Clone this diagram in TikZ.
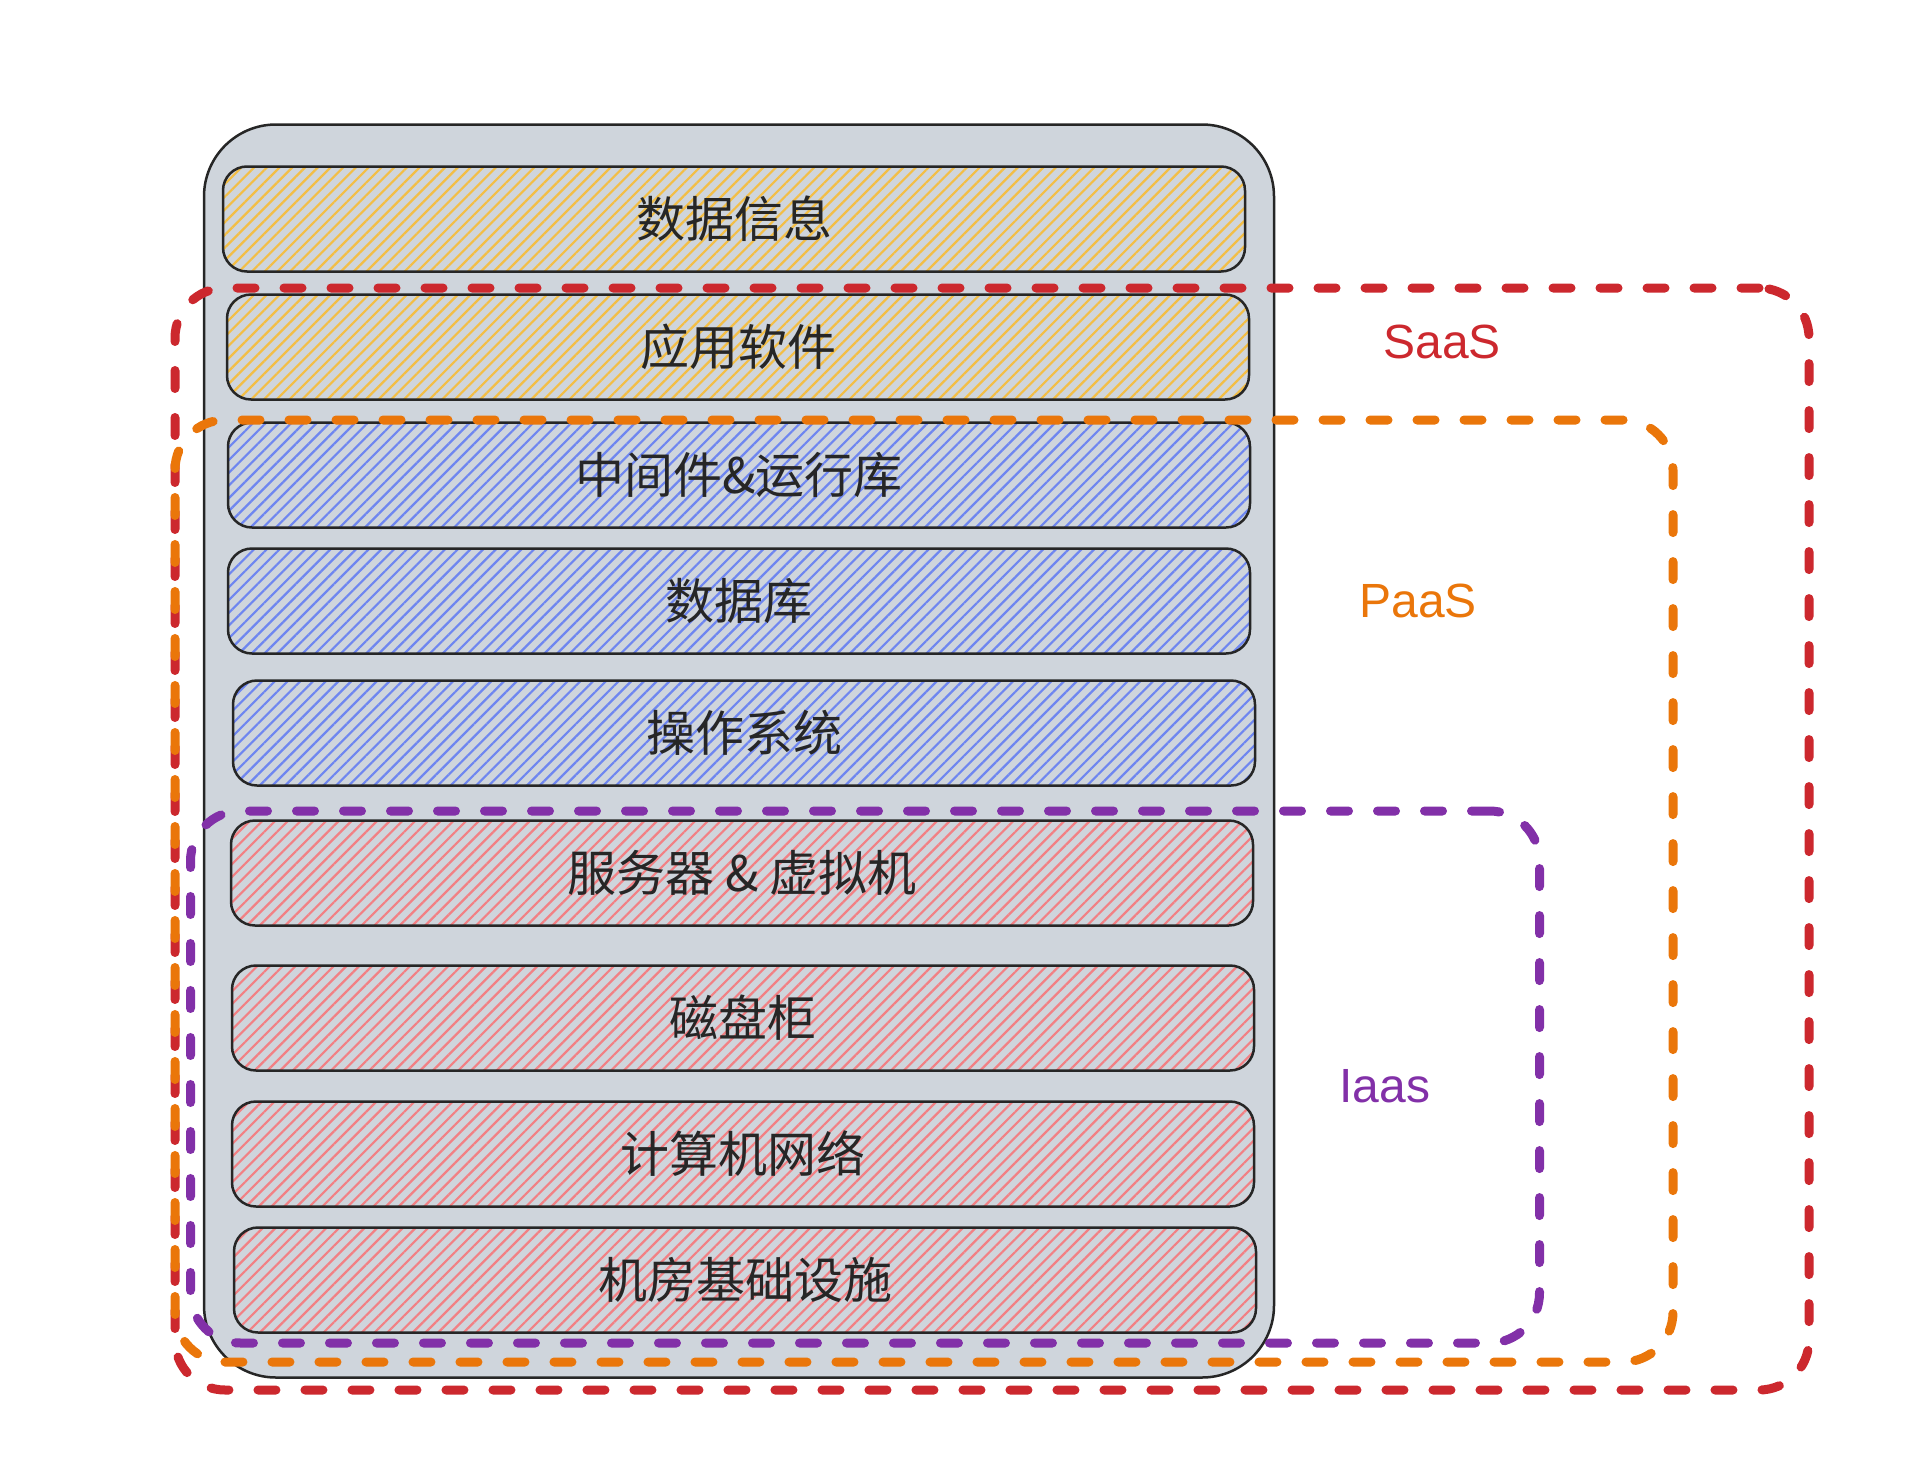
\documentclass[tikz,border=0pt]{standalone}
\usepackage{fontspec}
\setmainfont{Liberation Sans}
\newfontfamily\cjk{Noto Sans CJK SC}
\usetikzlibrary{patterns.meta}

\definecolor{stackgray}{RGB}{207,213,220}
\definecolor{hatchyellow}{RGB}{243,190,70}
\definecolor{hatchblue}{RGB}{110,134,240}
\definecolor{hatchred}{RGB}{242,128,132}
\definecolor{saasred}{RGB}{204,40,46}
\definecolor{paasorange}{RGB}{234,118,10}
\definecolor{iaaspurple}{RGB}{130,48,168}

\tikzset{
  stack/.style={draw=black!85, line width=2.5pt, fill=stackgray, rounded corners=72pt,
    minimum width=1070pt, minimum height=1253pt},
  layer/.style={draw=black!85, line width=2.5pt, rounded corners=24pt,
    minimum width=1022pt, minimum height=105pt, inner sep=0pt,
    font=\cjk\fontsize{49}{56}\selectfont, text=black!85},
  applayer/.style={layer, pattern={Lines[angle=45,distance=9pt,line width=2.2pt]}, pattern color=hatchyellow},
  platlayer/.style={layer, pattern={Lines[angle=45,distance=9pt,line width=2.2pt]}, pattern color=hatchblue},
  hwlayer/.style={layer, pattern={Lines[angle=45,distance=9pt,line width=2.2pt]}, pattern color=hatchred},
  svcbox/.style={draw, line width=9pt, dash pattern=on 18pt off 29pt, line cap=round,
    rounded corners=50pt},
  svclabel/.style={font=\fontsize{48}{56}\selectfont}
}

\begin{document}
\begin{tikzpicture}[x=1pt, y=-1pt]
  \useasboundingbox (0,0) rectangle (1920,1478);
  \node[stack] (stack) at (739,751) {};

  \node[applayer] (info) at (734,219) {数据信息};
  \node[applayer] (app) at (738,347) {应用软件};
  \node[platlayer] (mid) at (739,475) {中间件\&运行库};
  \node[platlayer] (db) at (739,601) {数据库};
  \node[platlayer] (os) at (744,733) {操作系统};
  \node[hwlayer] (server) at (742,873) {服务器 \& 虚拟机};
  \node[hwlayer] (disk) at (743,1018) {磁盘柜};
  \node[hwlayer] (net) at (743,1154) {计算机网络};
  \node[hwlayer] (room) at (745,1280) {机房基础设施};

  \node[svcbox, draw=saasred, minimum width=1634pt, minimum height=1102pt] (saasbox) at (992,839) {};
  \node[svcbox, draw=paasorange, minimum width=1498pt, minimum height=942pt] (paasbox) at (924,891) {};
  \node[svcbox, draw=iaaspurple, minimum width=1349pt, minimum height=532pt] (iaasbox) at (865,1077) {};

  \node[svclabel, text=saasred] (saas) at (1442,342) {SaaS};
  \node[svclabel, text=paasorange] (paas) at (1418,601) {PaaS};
  \node[svclabel, text=iaaspurple] (iaas) at (1385,1086) {Iaas};
\end{tikzpicture}
\end{document}
